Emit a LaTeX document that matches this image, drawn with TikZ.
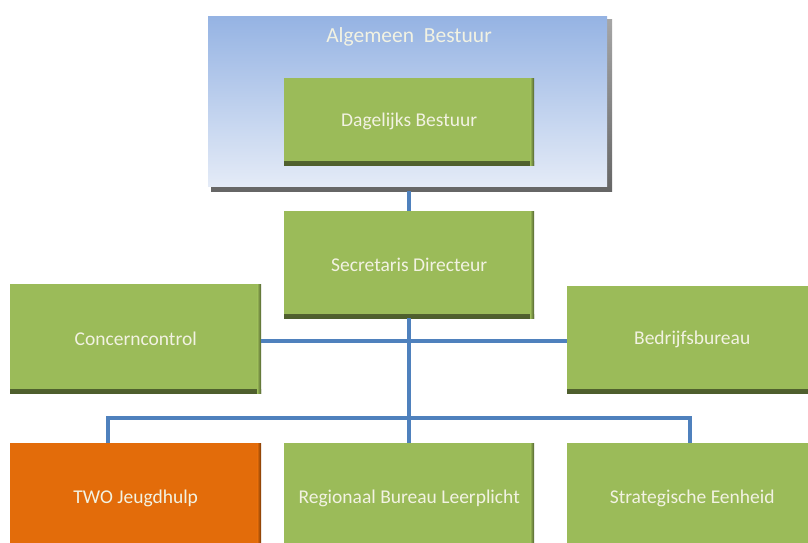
\documentclass[tikz,border=0pt]{standalone}
\usepackage{fontspec}
\setmainfont{Carlito}
\definecolor{gfill}{RGB}{155,187,89}
\definecolor{ofill}{RGB}{227,108,10}
\definecolor{lblue}{RGB}{79,129,189}
\definecolor{ttext}{RGB}{242,242,226}
\definecolor{btop}{RGB}{149,179,227}
\definecolor{bbot}{RGB}{228,235,247}
\tikzset{
  orgbox/.style={draw=none, inner sep=0pt, text=ttext, font=\fontsize{19.5}{23}\selectfont, anchor=north west,
    path picture={
      \shade[top color=#1, bottom color=#1!50!black] ([yshift=4pt]path picture bounding box.south west) rectangle (path picture bounding box.south east);
      \shade[left color=#1, right color=#1!50!black] ([xshift=-4pt]path picture bounding box.south east) rectangle (path picture bounding box.north east);
    }},
  greenbox/.style={orgbox=gfill, fill=gfill},
  orangebox/.style={orgbox=ofill, fill=ofill},
  conn/.style={draw=lblue, line width=4pt}
}
\begin{document}
\begin{tikzpicture}[x=1pt,y=-1pt]
\useasboundingbox (0,0) rectangle (808,542);
% Algemeen Bestuur
\shade[top color=black!35, bottom color=black!60] (211,19) rectangle (612,191);
\shade[top color=btop, bottom color=bbot] (208,16) rectangle (607,186);
\node[inner sep=0pt, minimum width=404pt, minimum height=175pt, anchor=north west] (ab) at (208,16) {};
\node[text=ttext, font=\fontsize{21.5}{25}\selectfont] (abt) at (409,37) {Algemeen\ \ Bestuur};
% boxes
\node[greenbox, minimum width=250pt, minimum height=87pt] (db) at (284,78) {Dagelijks Bestuur};
\node[greenbox, minimum width=250pt, minimum height=107pt] (sd) at (284,211) {Secretaris Directeur};
\node[greenbox, minimum width=251pt, minimum height=109pt] (cc) at (10,284) {Concerncontrol};
\node[greenbox, minimum width=250pt, minimum height=107pt] (bb) at (567,286) {Bedrijfsbureau};
\node[orangebox, minimum width=251pt, minimum height=110pt] (two) at (10,443) {TWO Jeugdhulp};
\node[greenbox, minimum width=250pt, minimum height=110pt] (rbl) at (284,443) {Regionaal Bureau Leerplicht};
\node[greenbox, minimum width=250pt, minimum height=110pt] (se) at (567,443) {Strategische Eenheid};
% connectors
\coordinate (j1) at (409,341);
\coordinate (j2) at (409,418);
\draw[conn] (ab.south -| sd.north) -- (sd.north);
\draw[conn] (sd.south) -- (rbl.north);
\draw[conn] (cc.east |- j1) -- (bb.west |- j1);
\draw[conn] (two.north -| 108,0) -- (108,418) -- (690,418) -- (se.north -| 690,0);
\end{tikzpicture}
\end{document}
